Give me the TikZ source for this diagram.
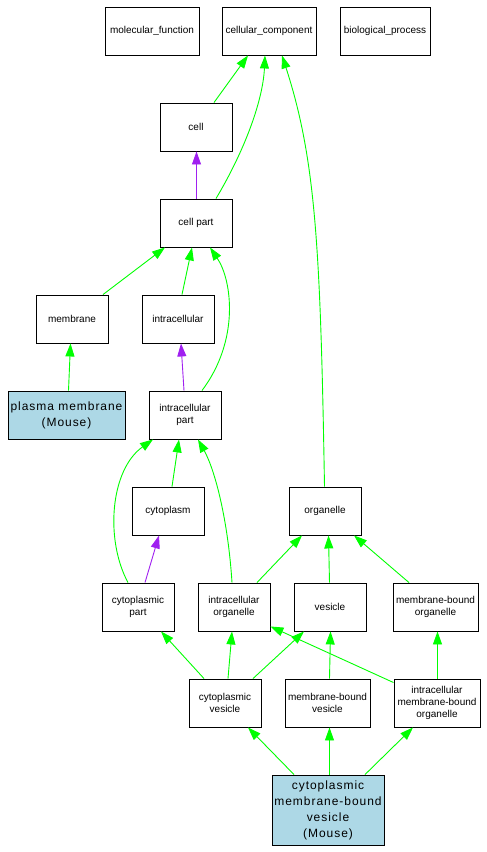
\documentclass[tikz,border=0pt]{standalone}
\usepackage{fontspec}
\setmainfont{Liberation Sans}
\usetikzlibrary{arrows.meta,calc}
\definecolor{isagreen}{HTML}{00FF00}
\definecolor{partpurple}{HTML}{A020F0}
\definecolor{mouseblue}{HTML}{ADD8E6}
\begin{document}
\begin{tikzpicture}[x=1pt,y=-1pt,
  term/.style={draw=black, line width=0.9pt, fill=white, minimum height=48pt,
    inner sep=0pt, align=center, font=\fontsize{10}{12}\selectfont},
  mouse/.style={term, fill=mouseblue, font=\fontsize{12}{16}\selectfont\addfontfeatures{LetterSpace=8}},
  isa/.style={draw=isagreen, line width=0.9pt, -{Triangle[length=13pt,width=9pt]}},
  partof/.style={isa, draw=partpurple}]
\useasboundingbox (0,0) rectangle (487,852);
% nodes
\node[term, minimum width=94pt] (mf) at (152,31) {molecular\_function};
\node[term, minimum width=94pt] (cc) at (269,31) {cellular\_component};
\node[term, minimum width=90pt] (bp) at (385,31) {biological\_process};
\node[term, minimum width=72pt] (cell) at (196,127) {cell};
\node[term, minimum width=72pt] (cellpart) at (196,223) {cell part};
\node[term, minimum width=72pt] (membrane) at (72,319) {membrane};
\node[term, minimum width=72pt] (intracellular) at (178,319) {intracellular};
\node[mouse, minimum width=117pt] (plasma) at (66.5,415) {plasma membrane\\(Mouse)};
\node[term, minimum width=72pt] (ipart) at (185,415) {intracellular\\part};
\node[term, minimum width=72pt] (cytoplasm) at (168,511) {cytoplasm};
\node[term, minimum width=72pt] (organelle) at (325,511) {organelle};
\node[term, minimum width=72pt] (cpart) at (138,607) {cytoplasmic\\part};
\node[term, minimum width=72pt] (iorg) at (234,607) {intracellular\\organelle};
\node[term, minimum width=72pt] (vesicle) at (330,607) {vesicle};
\node[term, minimum width=85pt] (mbo) at (435.5,607) {membrane-bound\\organelle};
\node[term, minimum width=72pt] (cves) at (225,703) {cytoplasmic\\vesicle};
\node[term, minimum width=85pt] (mbv) at (327.5,703) {membrane-bound\\vesicle};
\node[term, minimum width=86pt] (imbo) at (437,703) {intracellular\\membrane-bound\\organelle};
\node[mouse, minimum width=112pt, minimum height=70pt] (cmbv) at (328,810) {cytoplasmic\\membrane-bound\\vesicle\\(Mouse)};
% edges
\draw[isa] ($(cell.north)+(18,0)$) -- ($(cc.south)+(-21,0)$);
\draw[isa] ($(cellpart.north)+(20,0)$) .. controls (245,150) and (263,100) .. ($(cc.south)+(-4,0)$);
\draw[isa] ($(organelle.north)+(-0.5,0)$) .. controls (320.5,250) and (316,160) .. ($(cc.south)+(13,0)$);
\draw[partof] ($(cellpart.north)+(0.5,0)$) -- ($(cell.south)+(0.5,0)$);
\draw[isa] ($(membrane.north)+(31,0)$) -- ($(cellpart.south)+(-31,0)$);
\draw[isa] ($(intracellular.north)+(4,0)$) -- ($(cellpart.south)+(-4,0)$);
\draw[isa] ($(ipart.north)+(17,0)$) .. controls (240,340) and (232,280) .. ($(cellpart.south)+(14,0)$);
\draw[isa] ($(plasma.north)+(2,0)$) -- ($(membrane.south)+(-1.5,0)$);
\draw[partof] ($(ipart.north)+(-1,0)$) -- ($(intracellular.south)+(3,0)$);
\draw[isa] ($(cytoplasm.north)+(4,0)$) -- ($(ipart.south)+(-6,0)$);
\draw[isa] ($(cpart.north)+(-10,0)$) .. controls (105,540) and (110,470) .. ($(ipart.south)+(-32,0)$);
\draw[isa] ($(iorg.north)+(-2,0)$) .. controls (228,520) and (215,470) .. ($(ipart.south)+(13,0)$);
\draw[partof] ($(cpart.north)+(7,0)$) -- ($(cytoplasm.south)+(-9,0)$);
\draw[isa] ($(iorg.north)+(23,0)$) -- ($(organelle.south)+(-23,0)$);
\draw[isa] ($(vesicle.north)+(-0.5,0)$) -- ($(organelle.south)+(3.5,0)$);
\draw[isa] ($(mbo.north)+(-26.5,0)$) -- ($(organelle.south)+(29,0)$);
\draw[isa] ($(cves.north)+(-21,0)$) -- ($(cpart.south)+(23,0)$);
\draw[isa] ($(cves.north)+(3,0)$) -- ($(iorg.south)+(-2,0)$);
\draw[isa] ($(cves.north)+(28,0)$) -- ($(vesicle.south)+(-26,0)$);
\draw[isa] ($(mbv.north)+(2,0)$) -- ($(vesicle.south)+(0.5,0)$);
\draw[isa] ($(imbo.north west)+(0,4)$) -- ($(iorg.south east)+(0,-5)$);
\draw[isa] ($(imbo.north)+(0.5,0)$) -- ($(mbo.south)+(2,0)$);
\draw[isa] ($(cmbv.north)+(-34,0)$) -- ($(cves.south)+(23,0)$);
\draw[isa] ($(cmbv.north)+(1.5,0)$) -- ($(mbv.south)+(2,0)$);
\draw[isa] ($(cmbv.north)+(37,0)$) -- ($(imbo.south)+(-24,0)$);
\end{tikzpicture}
\end{document}
